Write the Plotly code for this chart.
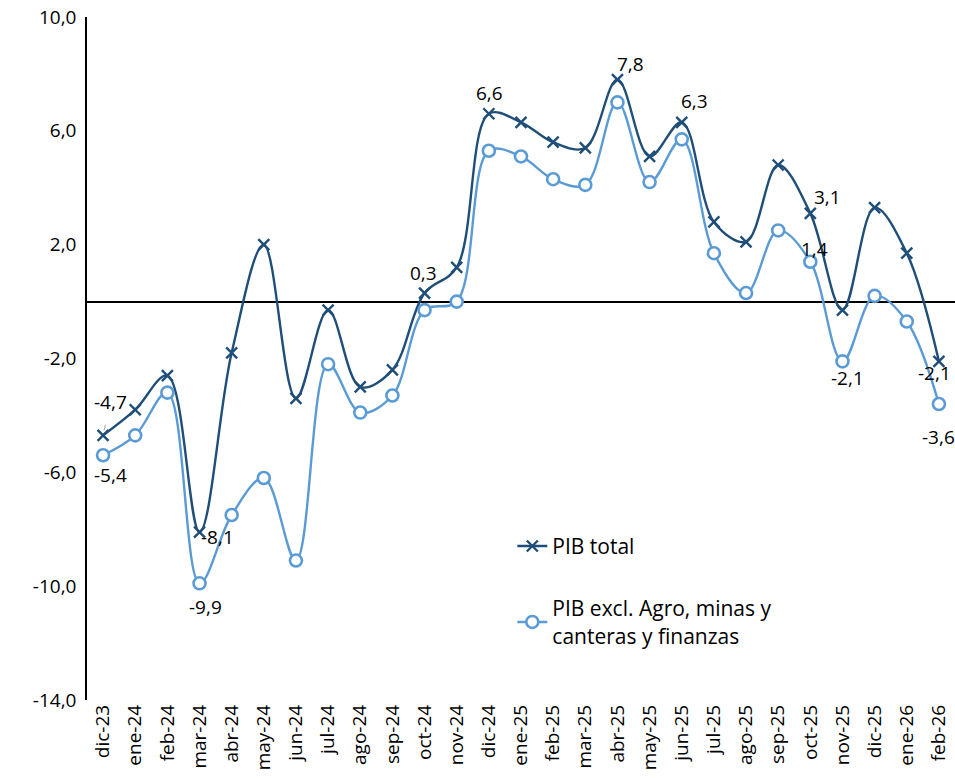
import plotly.graph_objects as go

months = ["dic-23", "ene-24", "feb-24", "mar-24", "abr-24", "may-24", "jun-24",
          "jul-24", "ago-24", "sep-24", "oct-24", "nov-24", "dic-24", "ene-25",
          "feb-25", "mar-25", "abr-25", "may-25", "jun-25", "jul-25", "ago-25",
          "sep-25", "oct-25", "nov-25", "dic-25", "ene-26", "feb-26"]

pib_total = [-4.7, -3.8, -2.6, -8.1, -1.8, 2.0, -3.4, -0.3, -3.0, -2.4, 0.3, 1.2,
             6.6, 6.3, 5.6, 5.4, 7.8, 5.1, 6.3, 2.8, 2.1, 4.8, 3.1, -0.3, 3.3, 1.7, -2.1]

pib_excl = [-5.4, -4.7, -3.2, -9.9, -7.5, -6.2, -9.1, -2.2, -3.9, -3.3, -0.3, 0.0,
            5.3, 5.1, 4.3, 4.1, 7.0, 4.2, 5.7, 1.7, 0.3, 2.5, 1.4, -2.1, 0.2, -0.7, -3.6]

y_ticks = [-14, -10, -6, -2, 2, 6, 10]
y_tick_text = ["-14,0", "-10,0", "-6,0", "-2,0", "2,0", "6,0", "10,0"]

# Points that carry a value label: (month index, x shift, y shift)
total_labels = [(3, 18, -5), (10, -1, 20), (12, 1, 21),
                (16, 13, 16), (18, 13, 21), (22, 17, 16), (26, -4, -12)]
excl_labels = [(0, 7, -20), (3, 6, -24), (22, 4, 13), (23, 5, -17), (26, 0, -33)]

DARK = "#1F4E79"
LIGHT = "#5B9BD5"
FONT = "Open Sans"
LABEL_SIZE = 19


def fmt(v):
    return f"{v:.1f}".replace(".", ",")


fig = go.Figure()

fig.add_trace(go.Scatter(
    x=months, y=pib_total, name="PIB total", mode="lines+markers",
    line=dict(color=DARK, width=2.4, shape="spline", smoothing=1.0),
    marker=dict(symbol="x-thin", size=11, line=dict(color=DARK, width=2.4)),
    legendgroup="a",
))
fig.add_trace(go.Scatter(
    x=months, y=pib_excl, name="PIB excl. Agro, minas y<br>canteras y finanzas",
    mode="lines+markers",
    line=dict(color=LIGHT, width=2.4, shape="spline", smoothing=1.0),
    marker=dict(symbol="circle", size=12, color="white",
                line=dict(color=LIGHT, width=2.6)),
    legendgroup="b",
))

annotations = []
# first point of the total series: label pulled up with a thin leader line
annotations.append(dict(x=months[0], y=pib_total[0], text=fmt(pib_total[0]),
                        xref="x", yref="y", showarrow=True, arrowhead=0,
                        arrowcolor="#A6A6A6", arrowwidth=1, ax=7, ay=-33,
                        standoff=5, startstandoff=8,
                        font=dict(family=FONT, size=LABEL_SIZE, color="black")))
for idx, dx, dy in total_labels:
    annotations.append(dict(x=months[idx], y=pib_total[idx], text=fmt(pib_total[idx]),
                            xref="x", yref="y", showarrow=False, xshift=dx, yshift=dy,
                            font=dict(family=FONT, size=LABEL_SIZE, color="black")))
for idx, dx, dy in excl_labels:
    annotations.append(dict(x=months[idx], y=pib_excl[idx], text=fmt(pib_excl[idx]),
                            xref="x", yref="y", showarrow=False, xshift=dx, yshift=dy,
                            font=dict(family=FONT, size=LABEL_SIZE, color="black")))

fig.update_layout(
    width=955, height=778,
    margin=dict(l=87, r=0, t=17, b=78),
    paper_bgcolor="white", plot_bgcolor="white",
    font=dict(family=FONT, size=19, color="black"),
    separators=",.",
    showlegend=True,
    legend=dict(x=0.49, y=0.255, xanchor="left", yanchor="top",
                bgcolor="rgba(0,0,0,0)", font=dict(family=FONT, size=21),
                tracegroupgap=32, itemwidth=30),
    annotations=annotations,
    xaxis=dict(type="category", range=[-0.5, len(months) - 0.5],
               showgrid=False, showline=False, zeroline=False,
               tickangle=-90, ticks="", tickfont=dict(family=FONT, size=19)),
    yaxis=dict(range=[-14, 10], tickvals=y_ticks, ticktext=y_tick_text,
               showgrid=False, showline=True, linecolor="black", linewidth=1.5,
               zeroline=True, zerolinecolor="black", zerolinewidth=1.5,
               ticks="", ticklabelstandoff=5, tickfont=dict(family=FONT, size=19)),
)

fig.write_html("out.html")
